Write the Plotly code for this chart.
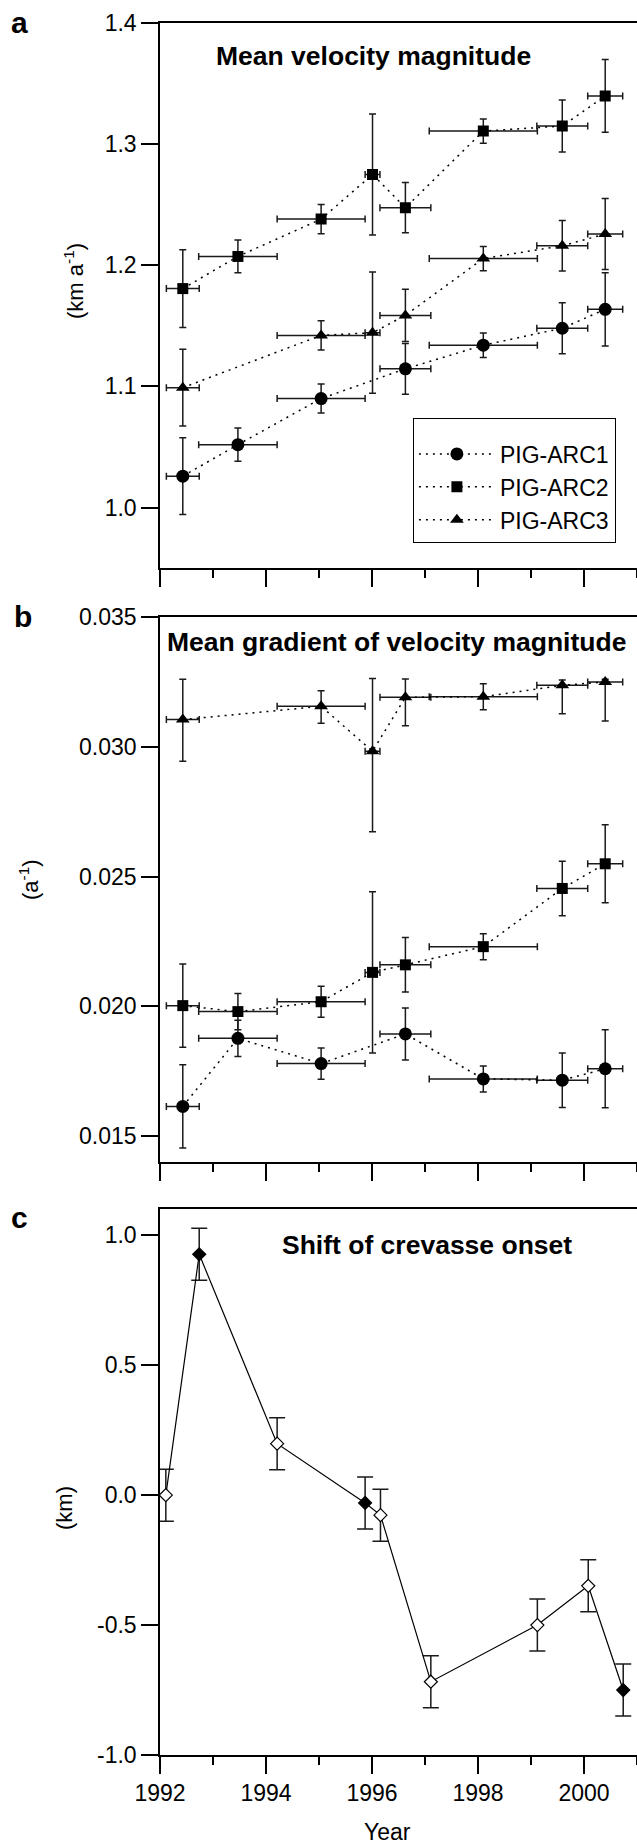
import plotly.graph_objects as go

W, H = 637, 1844
FONT = "Liberation Sans, Arial, sans-serif"

# ---------------- data ----------------
# epochs of velocity fields (decimal year) and half-interval of the image pairs
years = [1992.43, 1993.47, 1995.04, 1996.01, 1996.63, 1998.10, 1999.59, 2000.40]
years_half = [0.31, 0.74, 0.83, 0.14, 0.48, 1.02, 0.48, 0.33]

# panel a: mean velocity magnitude (km/a)
a_arc1 = [1.026, 1.052, 1.090, None, 1.1145, 1.134, 1.148, 1.1636]
a_arc1_err = [0.0316, 0.0138, 0.012, 0, 0.021, 0.0101, 0.0211, 0.0302]
a_arc2 = [1.1807, 1.2072, 1.238, 1.2748, 1.2474, 1.3106, 1.3148, 1.3396]
a_arc2_err = [0.032, 0.0135, 0.012, 0.050, 0.0207, 0.010, 0.0215, 0.030]
a_arc3 = [1.099, None, 1.1421, 1.1443, 1.1586, 1.2055, 1.216, 1.2257]
a_arc3_err = [0.0316, 0, 0.012, 0.050, 0.0215, 0.010, 0.0208, 0.0293]

# panel b: mean gradient of velocity magnitude (1/a)
b_arc1 = [0.01615, 0.01877, 0.0178, None, 0.01894, 0.01721, 0.01716, 0.0176]
b_arc1_err = [0.0016, 0.0007, 0.0006, 0, 0.0010, 0.0005, 0.00105, 0.0015]
b_arc2 = [0.02003, 0.0198, 0.02018, 0.02131, 0.0216, 0.0223, 0.02454, 0.02549]
b_arc2_err = [0.0016, 0.0007, 0.0006, 0.0031, 0.00105, 0.0005, 0.00105, 0.0015]
b_arc3 = [0.03104, None, 0.03155, 0.02982, 0.0319, 0.03192, 0.03236, 0.03249]
b_arc3_err_up = [0.00155, 0, 0.0006, 0.0028, 0.0007, 0.0005, 0.0002, 0.0001]
b_arc3_err_down = [0.0016, 0, 0.00065, 0.0031, 0.0011, 0.0005, 0.0011, 0.0015]

# panel c: shift of crevasse onset (km)
c_years = [1992.11, 1992.74, 1994.21, 1995.87, 1996.16, 1997.11, 1999.12, 2000.08, 2000.74]
c_shift = [0.0, 0.927, 0.198, -0.030, -0.077, -0.718, -0.50, -0.349, -0.750]
c_err = [0.1, 0.1, 0.1, 0.1, 0.1, 0.1, 0.1, 0.1, 0.1]
c_filled = [False, True, False, True, False, False, False, False, True]

series_names = ["PIG-ARC1", "PIG-ARC2", "PIG-ARC3"]
series_symbols = ["circle", "square", "triangle-up"]

x_tickvals = [1992, 1994, 1996, 1998, 2000]
x_ticktext = ["1992", "1994", "1996", "1998", "2000"]
a_tickvals = [1.0, 1.1, 1.2, 1.3, 1.4]
a_ticktext = ["1.0", "1.1", "1.2", "1.3", "1.4"]
b_tickvals = [0.015, 0.020, 0.025, 0.030, 0.035]
b_ticktext = ["0.015", "0.020", "0.025", "0.030", "0.035"]
c_tickvals = [-1.0, -0.5, 0.0, 0.5, 1.0]
c_ticktext = ["-1.0", "-0.5", "0.0", "0.5", "1.0"]


def px(x):
    return x / W


def py(y):
    return 1 - y / H


ERRC = "#1a1a1a"
TICKFONT = dict(size=23, family=FONT, color="black")
fig = go.Figure()


def add_series(yvals, err_up, err_down, name, symbol, size, xa, ya, showlegend):
    xs, ys, eu, ed, xh = [], [], [], [], []
    for i, v in enumerate(yvals):
        if v is None:
            continue
        xs.append(years[i])
        ys.append(v)
        eu.append(err_up[i])
        ed.append(err_down[i])
        xh.append(years_half[i])
    fig.add_trace(go.Scatter(
        x=xs, y=ys, mode="lines+markers", name=name, xaxis=xa, yaxis=ya,
        showlegend=showlegend, legendgroup=name,
        line=dict(color="black", width=1.5, dash="2px,5px"),
        marker=dict(symbol=symbol, size=size, color="black", line=dict(width=0)),
        error_y=dict(type="data", symmetric=False, array=eu, arrayminus=ed,
                     color=ERRC, thickness=1.5, width=3.5),
        error_x=dict(type="data", array=xh, color=ERRC, thickness=1.5, width=3.5),
    ))


sizes = [13, 11, 12]
a_vals = [(a_arc1, a_arc1_err, a_arc1_err), (a_arc2, a_arc2_err, a_arc2_err),
          (a_arc3, a_arc3_err, a_arc3_err)]
b_vals = [(b_arc1, b_arc1_err, b_arc1_err), (b_arc2, b_arc2_err, b_arc2_err),
          (b_arc3, b_arc3_err_up, b_arc3_err_down)]
for k in range(3):
    v, eu, ed = a_vals[k]
    add_series(v, eu, ed, series_names[k], series_symbols[k], sizes[k], "x", "y", True)
for k in range(3):
    v, eu, ed = b_vals[k]
    add_series(v, eu, ed, series_names[k], series_symbols[k], sizes[k], "x2", "y2", False)

fig.add_trace(go.Scatter(
    x=c_years, y=c_shift, mode="lines+markers", xaxis="x3", yaxis="y3", showlegend=False,
    line=dict(color="black", width=1.2),
    marker=dict(symbol="diamond", size=10,
                color=["black" if f else "white" for f in c_filled],
                line=dict(color="black", width=1.2)),
    error_y=dict(type="data", array=c_err, color=ERRC, thickness=1.5, width=8),
))

xdom = [160 / W, 1.0]


def xaxis(show_labels):
    return dict(domain=xdom, range=[1992, 2001], showline=True, linecolor="black",
                linewidth=1.5, mirror=True, ticks="outside", ticklen=17, tickwidth=1.5,
                tickcolor="black", tickmode="array", tickvals=x_tickvals, ticktext=x_ticktext,
                showticklabels=show_labels, showgrid=False, zeroline=False, automargin=False,
                minor=dict(ticks="outside", dtick=1, tick0=1992, ticklen=8,
                           tickwidth=1.5, tickcolor="black", showgrid=False),
                tickfont=TICKFONT)


def yaxis(dom, rng, tv, tt, anchor):
    return dict(domain=dom, range=rng, anchor=anchor, showline=True, linecolor="black",
                linewidth=1.5, mirror=False, ticks="outside", ticklen=17, tickwidth=1.5,
                tickcolor="black", tickmode="array", tickvals=tv, ticktext=tt,
                showgrid=False, zeroline=False, automargin=False,
                tickfont=TICKFONT)


fig.update_layout(
    width=W, height=H, autosize=False,
    margin=dict(l=0, r=0, t=0, b=0, pad=0, autoexpand=False),
    paper_bgcolor="white", plot_bgcolor="white",
    font=dict(family=FONT, size=22, color="black"),
    xaxis=dict(xaxis(False), anchor="y"),
    yaxis=yaxis([py(568.3), py(22.7)], [0.95, 1.4], a_tickvals, a_ticktext, "x"),
    xaxis2=dict(xaxis(False), anchor="y2"),
    yaxis2=yaxis([py(1162.3), py(616.7)], [0.014, 0.035], b_tickvals, b_ticktext, "x2"),
    xaxis3=dict(xaxis(True), anchor="y3"),
    yaxis3=yaxis([py(1755), py(1209.3)], [-1.0, 1.1], c_tickvals, c_ticktext, "x3"),
    legend=dict(x=px(412.7), y=py(418.3), xanchor="left", yanchor="top",
                bordercolor="black", borderwidth=1.2, bgcolor="white", itemwidth=76,
                title=dict(text="&nbsp;", font=dict(size=10, family=FONT)),
                font=dict(size=23, family=FONT, color="black"), traceorder="normal"),
    showlegend=True,
)

ann = []


def text(x, y, s, size, bold=False, angle=0):
    ann.append(dict(x=px(x), y=py(y), xref="paper", yref="paper", text=("<b>%s</b>" % s) if bold else s,
                    showarrow=False, xanchor="center", yanchor="middle", textangle=angle,
                    font=dict(size=size, family=FONT, color="black")))


text(19, 22, "a", 30, True)
text(23, 616, "b", 30, True)
text(19, 1217, "c", 30, True)
text(373.5, 56, "Mean velocity magnitude", 26.5, True)
text(396.5, 642, "Mean gradient of velocity magnitude", 26.5, True)
text(427, 1245, "Shift of crevasse onset", 26.5, True)
text(74, 281, "(km a<sup>-1</sup>)", 22, angle=-90)
text(29, 880, "(a<sup>-1</sup>)", 22, angle=-90)
text(64, 1508, "(km)", 22, angle=-90)
text(387, 1832, "Year", 23)
fig.update_layout(annotations=ann)

fig.write_html("out.html", config={"displayModeBar": False},
               post_script="document.body.style.margin='0px';document.body.style.padding='0px';")
